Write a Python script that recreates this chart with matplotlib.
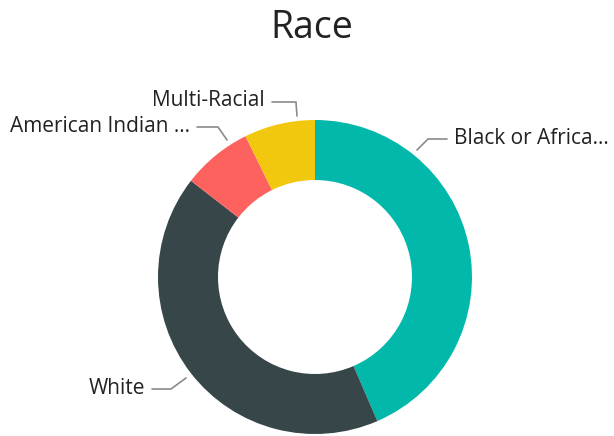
import matplotlib
matplotlib.use("Agg")
import matplotlib.pyplot as plt

# Race breakdown (share of donut)
categories = ["Black or Africa...", "White", "American Indian ...", "Multi-Racial"]
shares = [43.5, 42.0, 7.2, 7.3]
colors = ["#01B8AA", "#374649", "#FD625E", "#F2C80F"]

W, H = 614, 436
plt.rcParams["font.family"] = ["Open Sans", "DejaVu Sans"]

fig = plt.figure(figsize=(W / 100, H / 100), dpi=100)
ax = fig.add_axes([0, 0, 1, 1])

def py(y):
    # pixel-from-top -> axes y
    return H - y

cx, cy, r = 315, 277, 157
ax.pie(shares, colors=colors, startangle=90, counterclock=False,
       center=(cx, py(cy)), radius=r, frame=True,
       wedgeprops=dict(width=60, linewidth=0))
ax.set_xlim(0, W)
ax.set_ylim(0, H)
ax.set_aspect("equal")
ax.axis("off")

# leader lines and label anchors (layout, pixel coords from top)
leaders = {
    "Black or Africa...": ([(417, 150), (428, 139), (447, 139)], (454, 139), "left"),
    "White": ([(186, 378), (171, 389), (152, 389)], (145, 388), "right"),
    "American Indian ...": ([(227, 140), (218, 127), (197, 127)], (190, 126), "right"),
    "Multi-Racial": ([(297, 116), (296, 102), (272, 102)], (265, 100), "right"),
}
for name in categories:
    pts, (tx, ty), ha = leaders[name]
    ax.plot([p[0] for p in pts], [py(p[1]) for p in pts], color="#8a8a8a", lw=1.2,
            solid_capstyle="round")
    ax.text(tx, py(ty), name, ha=ha, va="center", fontsize=15, color="#222222")

ax.text(312, py(28), "Race", ha="center", va="center", fontsize=27, color="#222222")

fig.savefig("out.png", dpi=100)
